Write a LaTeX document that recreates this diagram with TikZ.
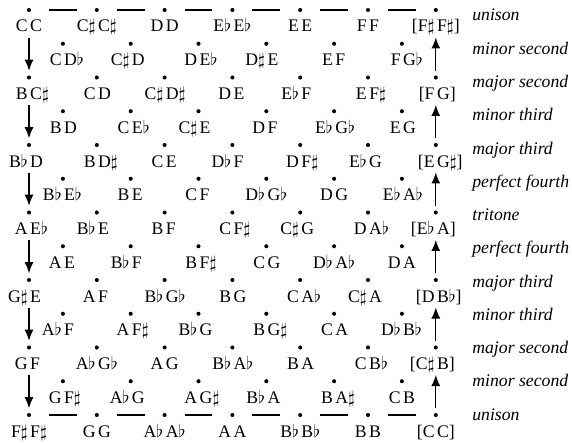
\documentclass[tikz,border=0pt]{standalone}
\usepackage{fontspec}
\setmainfont{Liberation Serif}[ItalicFont={Liberation Serif Italic}]
\usetikzlibrary{arrows.meta}

\newcommand{\sh}{$\sharp$}
\newcommand{\fl}{$\flat$}
\newcommand{\dy}[2]{\llap{#1\kern0.7pt}\rlap{\kern0.7pt#2}}
\newcommand{\noterow}[3]{%
  \foreach \a/\b [count=\col from 0] in {#3} {
    \node[dot] (d#1-\col) at (#2+67.8*\col, 10+33.75*#1) {};
    \node[pair] (t#1-\col) at (#2+67.8*\col, 32+33.75*#1) {\dy{\a}{\b}};
  }}

\begin{document}
\begin{tikzpicture}[x=0.565pt, y={(0pt,-0.565pt)},
    dot/.style={circle, fill, inner sep=0pt, minimum size=2.3pt},
    pair/.style={anchor=base, inner sep=0pt},
    ivl/.style={anchor=base west, inner sep=0pt, font=\itshape},
    hline/.style={line width=0.6pt, shorten <=10pt, shorten >=10pt},
    tip/.style={line width=0.6pt, -{Latex[length=6.2pt,width=5pt]}},
    down/.style={tip, shorten <=14.2pt, shorten >=2.5pt},
    up/.style={tip, shorten <=2.5pt, shorten >=14.2pt}]
    \useasboundingbox (0,0) rectangle (572,443);

    \noterow{0}{29}{C/C, C\sh/C\sh, D/D, E\fl/E\fl, E/E, F/F, {[F\sh}/{F\sh]}}
    \noterow{1}{62.9}{C/D\fl, C\sh/D, D/E\fl, D\sh/E, E/F, F/G\fl}
    \noterow{2}{29}{B/C\sh, C/D, C\sh/D\sh, D/E, E\fl/F, E/F\sh, {[F}/{G]}}
    \noterow{3}{62.9}{B/D, C/E\fl, C\sh/E, D/F, E\fl/G\fl, E/G}
    \noterow{4}{29}{B\fl/D, B/D\sh, C/E, D\fl/F, D/F\sh, E\fl/G, {[E}/{G\sh]}}
    \noterow{5}{62.9}{B\fl/E\fl, B/E, C/F, D\fl/G\fl, D/G, E\fl/A\fl}
    \noterow{6}{29}{A/E\fl, B\fl/E, B/F, C/F\sh, C\sh/G, D/A\fl, {[E\fl}/{A]}}
    \noterow{7}{62.9}{A/E, B\fl/F, B/F\sh, C/G, D\fl/A\fl, D/A}
    \noterow{8}{29}{G\sh/E, A/F, B\fl/G\fl, B/G, C/A\fl, C\sh/A, {[D}/{B\fl]}}
    \noterow{9}{62.9}{A\fl/F, A/F\sh, B\fl/G, B/G\sh, C/A, D\fl/B\fl}
    \noterow{10}{29}{G/F, A\fl/G\fl, A/G, B\fl/A\fl, B/A, C/B\fl, {[C\sh}/{B]}}
    \noterow{11}{62.9}{G/F\sh, A\fl/G, A/G\sh, B\fl/A, B/A\sh, C/B}
    \noterow{12}{29}{F\sh/F\sh, G/G, A\fl/A\fl, A/A, B\fl/B\fl, B/B, {[C}/{C]}}

    % interval names
    \foreach \name [count=\r from 0] in {unison, minor second, major second,
        minor third, major third, perfect fourth, tritone, perfect fourth,
        major third, minor third, major second, minor second, unison}
      \node[ivl] (n\r) at (472, 21+33.25*\r) {\name};

    % unison rows
    \foreach \col [evaluate=\col as \nx using int(\col+1)] in {0,...,5} {
      \draw[hline] (d0-\col) -- (d0-\nx);
      \draw[hline] (d12-\col) -- (d12-\nx);
    }

    % arrows down the left, up the right
    \foreach \r [evaluate=\r as \s using int(\r+2)] in {0,2,...,10} {
      \draw[down] (d\r-0) -- (d\s-0);
      \draw[up] (d\s-6) -- (d\r-6);
    }
\end{tikzpicture}
\end{document}
